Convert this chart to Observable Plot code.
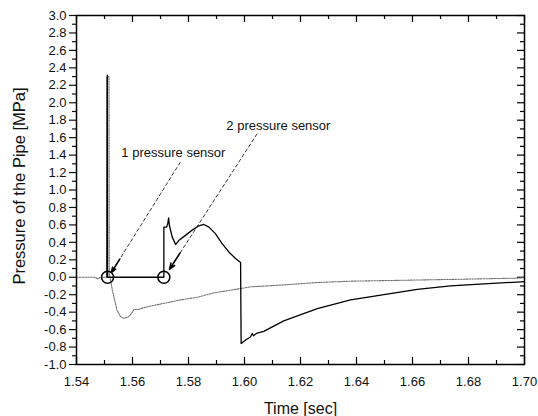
<!DOCTYPE html>
<html>
<head>
<meta charset="utf-8">
<script src="https://cdn.jsdelivr.net/npm/d3@7"></script>
<script src="https://cdn.jsdelivr.net/npm/@observablehq/plot@0.6"></script>
<style>
  html, body { margin: 0; padding: 0; background: white; }
  #chart { width: 538px; height: 416px; }
</style>
</head>
<body>
<div id="chart"></div>
<script>
// ---- Data ----
// Sensor 1 (grey dotted trace)
const sensor1Time = [1.5400, 1.5465, 1.5475, 1.5485, 1.5507, 1.5508, 1.5516, 1.5517, 1.5520, 1.5528, 1.5545, 1.5557, 1.5569, 1.5581, 1.5593, 1.5606, 1.5620, 1.5640, 1.5664, 1.5711, 1.5771, 1.5831, 1.5889, 1.5986, 1.6021, 1.6129, 1.6260, 1.6379, 1.6557, 1.6736, 1.6974, 1.7000];
const sensor1Value = [0.00, 0.00, -0.02, 0.00, 0.00, 2.30, 2.30, 0.00, 0.00, -0.15, -0.38, -0.45, -0.47, -0.46, -0.43, -0.37, -0.37, -0.35, -0.33, -0.30, -0.26, -0.23, -0.18, -0.13, -0.11, -0.09, -0.06, -0.045, -0.035, -0.025, -0.01, -0.005];

// Sensor 2 (black solid trace)
const sensor2Time = [1.5509, 1.5510, 1.5511, 1.5712, 1.5712, 1.5722, 1.5726, 1.5729, 1.5732, 1.5742, 1.5754, 1.5765, 1.5789, 1.5813, 1.5837, 1.5855, 1.5873, 1.5896, 1.5920, 1.5944, 1.5968, 1.5986, 1.5988, 1.6004, 1.6021, 1.6028, 1.6032, 1.6045, 1.6069, 1.6140, 1.6260, 1.6379, 1.6498, 1.6617, 1.6736, 1.6855, 1.6974, 1.7000];
const sensor2Value = [0.00, 2.315, 0.00, 0.00, 0.575, 0.575, 0.615, 0.68, 0.59, 0.46, 0.375, 0.42, 0.48, 0.54, 0.59, 0.605, 0.575, 0.50, 0.385, 0.29, 0.215, 0.17, -0.76, -0.72, -0.685, -0.645, -0.67, -0.64, -0.62, -0.50, -0.36, -0.26, -0.20, -0.14, -0.10, -0.075, -0.055, -0.05];

// Sensor markers (circles)
const markerTime = [1.5511, 1.5712];
const markerValue = [0.0, 0.0];

// Annotations
const labelText = ["1 pressure sensor", "2 pressure sensor"];
const labelTime = [1.5746, 1.6121];
const labelValue = [1.43, 1.74];
const arrowFromTime = [1.5771, 1.6045];
const arrowFromValue = [1.32, 1.645];
const arrowToTime = [1.5525, 1.5732];
const arrowToValue = [0.057, 0.09];

// Axis ticks
const xMajor = d3.range(154, 171, 2).map(d => d / 100);
const xMinor = d3.range(155, 171, 2).map(d => d / 100);
const yMajor = d3.range(-10, 31, 2).map(d => d / 10);
const yMinor = d3.range(-9, 30, 2).map(d => d / 10);

const xLabel = "Time [sec]";
const yLabel = "Pressure of the Pipe [MPa]";

// ---- Layout ----
const W = 538, H = 416;
const mt = 15, mb = 52, ml = 76, mr = 14;
const pw = W - ml - mr, ph = H - mt - mb;
const majorLen = 7, minorLen = 4;

// arrowhead segments: last part of each annotation line
const headFrac = 0.12;
const headFromTime = arrowToTime.map((t, i) => t + headFrac * (arrowFromTime[i] - t));
const headFromValue = arrowToValue.map((v, i) => v + headFrac * (arrowFromValue[i] - v));

const font = "'Liberation Sans', Arial, Helvetica, sans-serif";

const chart = Plot.plot({
  width: W,
  height: H,
  marginTop: mt,
  marginBottom: mb,
  marginLeft: ml,
  marginRight: mr,
  style: { fontFamily: font, fontSize: "13px", background: "white", color: "#111", overflow: "visible" },
  x: { domain: [1.54, 1.70] },
  y: { domain: [-1.0, 3.0] },
  marks: [
    // left axis (outward ticks + labels)
    Plot.axisY(yMajor, { anchor: "left", tickSize: majorLen, tickPadding: 3, tickFormat: d => d.toFixed(1), label: null, fontSize: 13, strokeWidth: 1.2 }),
    Plot.axisY(yMinor, { anchor: "left", tickSize: minorLen, tickFormat: () => "", label: null, strokeWidth: 1.2 }),
    // right inward ticks
    Plot.tickY(yMajor, { y: d => d, insetLeft: pw - majorLen, stroke: "black", strokeWidth: 1.2 }),
    Plot.tickY(yMinor, { y: d => d, insetLeft: pw - minorLen, stroke: "black", strokeWidth: 1.2 }),
    // bottom axis labels and inward ticks
    Plot.axisX(xMajor, { anchor: "bottom", tickSize: 0, tickPadding: 12, tickFormat: d => d.toFixed(2), label: null, fontSize: 13 }),
    Plot.tickX(xMajor, { x: d => d, insetTop: ph - majorLen, stroke: "black", strokeWidth: 1.2 }),
    Plot.tickX(xMinor, { x: d => d, insetTop: ph - minorLen, stroke: "black", strokeWidth: 1.2 }),
    // top inward ticks
    Plot.tickX(xMajor, { x: d => d, insetBottom: ph - majorLen, stroke: "black", strokeWidth: 1.2 }),
    Plot.tickX(xMinor, { x: d => d, insetBottom: ph - minorLen, stroke: "black", strokeWidth: 1.2 }),
    // data
    Plot.line(sensor1Value, { x: sensor1Time, y: sensor1Value, stroke: "#707070", strokeWidth: 1.1, strokeDasharray: "1.6,1.2" }),
    Plot.line(sensor2Value, { x: sensor2Time, y: sensor2Value, stroke: "black", strokeWidth: 1.3 }),
    // markers
    Plot.dot(markerValue, { x: markerTime, y: markerValue, r: 6, stroke: "black", strokeWidth: 1.5, fill: "none" }),
    // annotation lines
    Plot.link(arrowFromTime, { x1: arrowFromTime, y1: arrowFromValue, x2: arrowToTime, y2: arrowToValue, stroke: "#222", strokeWidth: 0.9, strokeDasharray: "4,2" }),
    Plot.arrow(headFromTime, { x1: headFromTime, y1: headFromValue, x2: arrowToTime, y2: arrowToValue, stroke: "black", strokeWidth: 1.6, headLength: 7, headAngle: 40 }),
    Plot.text(labelText, { x: labelTime, y: labelValue, text: labelText, fontSize: 13, fill: "#111" }),
    // frame
    Plot.frame({ stroke: "black", strokeWidth: 1.5 }),
    // axis titles
    Plot.text([xLabel], { frameAnchor: "bottom", textAnchor: "middle", lineAnchor: "middle", dy: 44, text: d => d, fontSize: 16, fill: "#111" }),
    Plot.text([yLabel], { frameAnchor: "left", textAnchor: "middle", lineAnchor: "middle", dx: -57, dy: -4, rotate: -90, text: d => d, fontSize: 16.5, fill: "#111" })
  ]
});

document.getElementById("chart").appendChild(chart);
</script>
</body>
</html>
